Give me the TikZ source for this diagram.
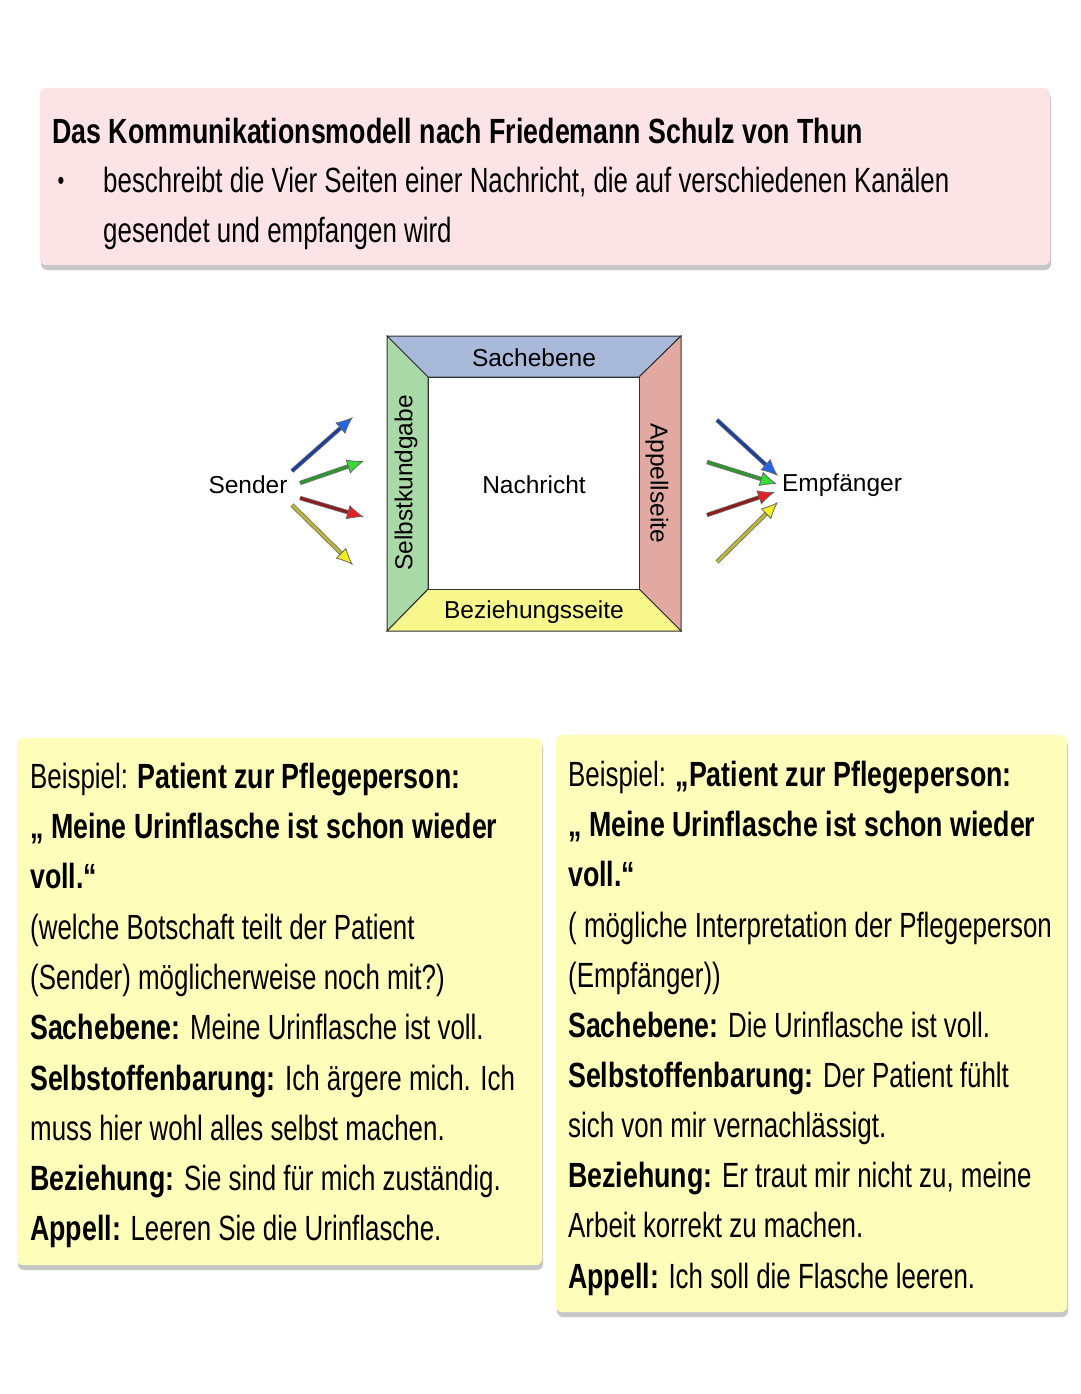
\documentclass[tikz,border=0pt]{standalone}
\usepackage{fontspec}
\setmainfont{Liberation Sans}[FakeStretch=0.74, BoldFeatures={FakeStretch=0.765}]
\newfontfamily\diagfont{Liberation Sans}
\usetikzlibrary{arrows.meta}
\definecolor{pinkbox}{HTML}{FCE4E6}
\definecolor{yelbox}{HTML}{FEFDBA}
\definecolor{sideblue}{HTML}{A9B9DA}
\definecolor{sidegreen}{HTML}{A9D9A6}
\definecolor{sidered}{HTML}{E2A9A3}
\definecolor{sideyellow}{HTML}{F7F78C}
\definecolor{shblue}{HTML}{1C3F9E}
\definecolor{hdblue}{HTML}{2266E6}
\definecolor{shgreen}{HTML}{2E962E}
\definecolor{hdgreen}{HTML}{33DD33}
\definecolor{shred}{HTML}{8E1C1C}
\definecolor{hdred}{HTML}{E22222}
\definecolor{shyellow}{HTML}{BDB43A}
\definecolor{hdyellow}{HTML}{F2EE22}
\tikzset{
  card/.style={fill=#1, draw=none, rounded corners=6pt},
  cardshadow/.style={fill=black!22, draw=none, rounded corners=6pt},
  txt/.style={anchor=base west, inner sep=0pt, font=\fontsize{35}{50}\selectfont},
  side/.style={draw=black!80, line width=1pt, fill=#1},
  dlabel/.style={inner sep=0pt, font=\diagfont\fontsize{24.5}{28}\selectfont},
  arrline/.style={line width=4.4pt, draw=black!55, shorten >=14pt},
  arr/.style 2 args={line width=2.8pt, draw=#1, -{Latex[length=17pt,width=15pt,fill=#2,color=black!60,line width=0.8pt]}},
}
\begin{document}
\begin{tikzpicture}[x=1pt,y=-1pt]
\useasboundingbox[fill=white] (0,0) rectangle (1080,1394);
% top card
\fill[cardshadow] (41,93) rectangle (1051,270);
\fill[card=pinkbox] (40,88) rectangle (1050,265);
\node[txt] (title) at (52,143) {\textbf{Das Kommunikationsmodell nach Friedemann Schulz von Thun}};
\node[inner sep=0pt, font=\fontsize{26}{26}\selectfont] (bul) at (61,183) {•};
\node[txt] (t1) at (103,192) {beschreibt die Vier Seiten einer Nachricht, die auf verschiedenen Kanälen};
\node[txt] (t2) at (103,242) {gesendet und empfangen wird};
% diagram
\coordinate (o1) at (387,336); \coordinate (o2) at (681,336);
\coordinate (o3) at (681,631); \coordinate (o4) at (387,631);
\coordinate (i1) at (428,377); \coordinate (i2) at (639,377);
\coordinate (i3) at (639,589); \coordinate (i4) at (428,589);
\draw[side=sideblue] (o1) -- (o2) -- (i2) -- (i1) -- cycle;
\draw[side=sidered] (o2) -- (o3) -- (i3) -- (i2) -- cycle;
\draw[side=sideyellow] (o3) -- (o4) -- (i4) -- (i3) -- cycle;
\draw[side=sidegreen] (o4) -- (o1) -- (i1) -- (i4) -- cycle;
\draw[draw=black!80, line width=1pt, fill=white] (i1) rectangle (i3);
\node[dlabel] (sach) at (534,358) {Sachebene};
\node[dlabel] (bez) at (534,612) {Beziehungsseite};
\node[dlabel, rotate=90] (selbst) at (406,483) {Selbstkundgabe};
\node[dlabel, rotate=-90] (app) at (657,483) {Appellseite};
\node[dlabel] (nach) at (534,485) {Nachricht};
\node[dlabel] (sender) at (248,485) {Sender};
\node[dlabel] (empf) at (842,485) {Empfänger};
% arrows left
\coordinate (ls1) at (292,471); \coordinate (le1) at (353,417);
\coordinate (ls2) at (300,483); \coordinate (le2) at (364,461);
\coordinate (ls3) at (300,498); \coordinate (le3) at (364,517);
\coordinate (ls4) at (292,505); \coordinate (le4) at (353,565);
% arrows right
\coordinate (rs1) at (717,420); \coordinate (re1) at (778,476);
\coordinate (rs2) at (707,462); \coordinate (re2) at (777,484);
\coordinate (rs3) at (707,515); \coordinate (re3) at (775,492);
\coordinate (rs4) at (717,562); \coordinate (re4) at (778,502);
\foreach \s/\e in {ls1/le1,ls2/le2,ls3/le3,ls4/le4,rs1/re1,rs2/re2,rs3/re3,rs4/re4}
  \draw[arrline] (\s) -- (\e);
\draw[arr={shblue}{hdblue}] (ls1) -- (le1);
\draw[arr={shgreen}{hdgreen}] (ls2) -- (le2);
\draw[arr={shred}{hdred}] (ls3) -- (le3);
\draw[arr={shyellow}{hdyellow}] (ls4) -- (le4);
\draw[arr={shblue}{hdblue}] (rs1) -- (re1);
\draw[arr={shgreen}{hdgreen}] (rs2) -- (re2);
\draw[arr={shred}{hdred}] (rs3) -- (re3);
\draw[arr={shyellow}{hdyellow}] (rs4) -- (re4);
% left yellow card
\fill[cardshadow] (18,743) rectangle (543,1270);
\fill[card=yelbox] (17,738) rectangle (542,1265);
\node[txt] (l1) at (30,788) {Beispiel: \textbf{Patient zur Pflegeperson:}};
\node[txt] (l2) at (30,838) {\textbf{„ Meine Urinflasche ist schon wieder}};
\node[txt] (l3) at (30,888) {\textbf{voll.“}};
\node[txt] (l4) at (30,939) {(welche Botschaft teilt der Patient};
\node[txt] (l5) at (30,989) {(Sender) möglicherweise noch mit?)};
\node[txt] (l6) at (30,1039) {\textbf{Sachebene:} Meine Urinflasche ist voll.};
\node[txt] (l7) at (30,1090) {\textbf{Selbstoffenbarung:} Ich ärgere mich. Ich};
\node[txt] (l8) at (30,1140) {muss hier wohl alles selbst machen.};
\node[txt] (l9) at (30,1190) {\textbf{Beziehung:} Sie sind für mich zuständig.};
\node[txt] (l10) at (30,1240) {\textbf{Appell:} Leeren Sie die Urinflasche.};
% right yellow card
\fill[cardshadow] (557,740) rectangle (1068,1317);
\fill[card=yelbox] (556,735) rectangle (1067,1312);
\node[txt] (r1) at (568,786) {Beispiel: \textbf{„Patient zur Pflegeperson:}};
\node[txt] (r2) at (568,836) {\textbf{„ Meine Urinflasche ist schon wieder}};
\node[txt] (r3) at (568,886) {\textbf{voll.“}};
\node[txt] (r4) at (568,937) {( mögliche Interpretation der Pflegeperson};
\node[txt] (r5) at (568,987) {(Empfänger))};
\node[txt] (r6) at (568,1037) {\textbf{Sachebene:} Die Urinflasche ist voll.};
\node[txt] (r7) at (568,1087) {\textbf{Selbstoffenbarung:} Der Patient fühlt};
\node[txt] (r8) at (568,1137) {sich von mir vernachlässigt.};
\node[txt] (r9) at (568,1187) {\textbf{Beziehung:} Er traut mir nicht zu, meine};
\node[txt] (r10) at (568,1237) {Arbeit korrekt zu machen.};
\node[txt] (r11) at (568,1288) {\textbf{Appell:} Ich soll die Flasche leeren.};
\end{tikzpicture}
\end{document}
